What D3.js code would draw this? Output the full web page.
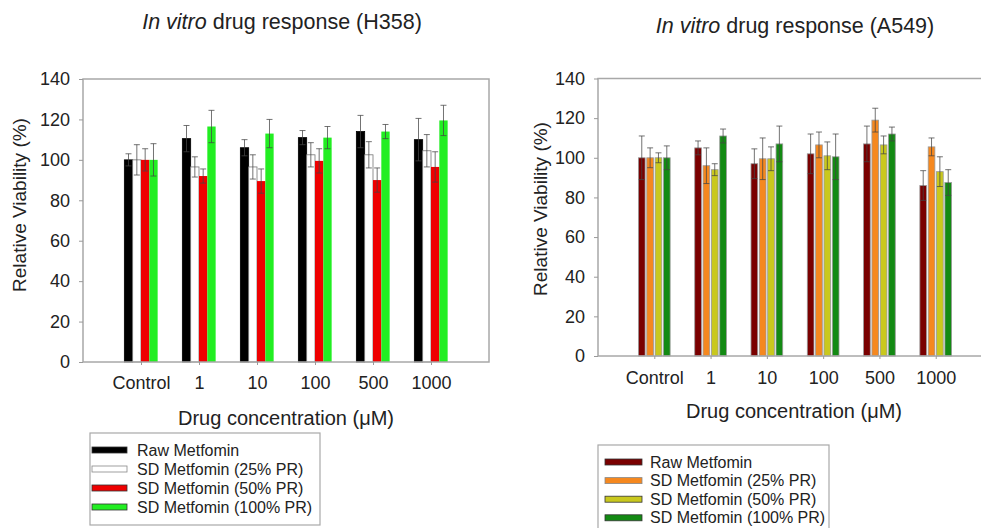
<!DOCTYPE html>
<html>
<head>
<meta charset="utf-8">
<script src="https://cdn.jsdelivr.net/npm/d3@7/dist/d3.min.js"></script>
<style>
  html, body { margin: 0; padding: 0; background: #fff; }
  svg { display: block; font-family: "Liberation Sans", Arial, sans-serif; }
</style>
</head>
<body>
<svg id="chart" width="981" height="528"></svg>
<script>
// Concentrations (µM) on the x axis
const categories = ["Control", "1", "10", "100", "500", "1000"];
const seriesNames = ["Raw Metfomin", "SD Metfomin (25% PR)", "SD Metfomin (50% PR)", "SD Metfomin (100% PR)"];
const yTicks = [0, 20, 40, 60, 80, 100, 120, 140];

// H358 relative viability (%) and SD
const h358Raw      = [100, 110.5, 106, 111, 114, 110];
const h358RawSD    = [3, 6.5, 4, 3.5, 8, 10.5];
const h358PR25     = [100, 96.5, 96.5, 102.5, 102.5, 104.5];
const h358PR25SD   = [7.5, 5, 6, 6, 6.5, 8];
const h358PR50     = [100, 92, 89.5, 99.5, 90, 96.5];
const h358PR50SD   = [5.5, 3.5, 6, 6, 6, 7.5];
const h358PR100    = [100, 116.5, 113, 111, 114, 119.5];
const h358PR100SD  = [8, 8, 7, 5.5, 3.5, 7.5];

// A549 relative viability (%) and SD
const a549Raw      = [100, 105, 97, 102, 107, 86];
const a549RawSD    = [11, 3.5, 7.5, 10, 9, 7.5];
const a549PR25     = [100, 96, 99.5, 106.5, 119, 105.5];
const a549PR25SD   = [5, 9, 10.5, 6.5, 6, 4.5];
const a549PR50     = [100, 94, 99.5, 101, 106.5, 93];
const a549PR50SD   = [2.5, 3, 6, 7, 4.5, 7.5];
const a549PR100    = [100, 111, 107, 100.5, 112, 87.5];
const a549PR100SD  = [6, 3.5, 9, 11.5, 3.5, 6.5];

const h358Colors = ["#000000", "#ffffff", "#ee0000", "#22ee22"];
const a549Colors = ["#7a0000", "#f5881f", "#c9c81e", "#138a13"];

const svg = d3.select("#chart");
const textColor = "#222";

function drawPanel(o) {
  const g = svg.append("g");
  const x = d3.scalePoint().domain(categories).range([o.x0, o.x1]).padding(1);
  const y = d3.scaleLinear().domain([0, 140]).range([o.y0, o.y1]);
  const inner = d3.scaleBand().domain(d3.range(seriesNames.length))
    .range([-o.groupW / 2, o.groupW / 2]).paddingInner(o.pad);

  // bars
  o.values.forEach((vals, si) => {
    g.append("g").selectAll("rect").data(vals).join("rect")
      .attr("x", (d, i) => x(categories[i]) + inner(si))
      .attr("y", d => y(d))
      .attr("width", inner.bandwidth())
      .attr("height", d => y(0) - y(d))
      .attr("fill", o.colors[si])
      .attr("stroke", o.barStroke[si])
      .attr("stroke-width", 0.8);
  });

  // error bars (mean ± SD)
  o.values.forEach((vals, si) => {
    const eg = g.append("g").attr("stroke", "#444").attr("stroke-width", 1).attr("stroke-opacity", 0.75);
    vals.forEach((v, i) => {
      const cx = x(categories[i]) + inner(si) + inner.bandwidth() / 2;
      const e = o.errors[si][i];
      const cap = o.cap / 2;
      eg.append("line").attr("x1", cx).attr("x2", cx).attr("y1", y(v - e)).attr("y2", y(v + e));
      eg.append("line").attr("x1", cx - cap).attr("x2", cx + cap).attr("y1", y(v + e)).attr("y2", y(v + e));
      eg.append("line").attr("x1", cx - cap).attr("x2", cx + cap).attr("y1", y(v - e)).attr("y2", y(v - e));
    });
  });

  // frame
  g.append("rect")
    .attr("x", o.x0).attr("y", o.y1)
    .attr("width", o.x1 - o.x0).attr("height", o.y0 - o.y1)
    .attr("fill", "none").attr("stroke", "#a8a8a8").attr("stroke-width", 1.5);

  // y axis
  const ya = g.append("g").attr("transform", `translate(${o.x0},0)`)
    .call(d3.axisLeft(y).tickValues(yTicks).tickSize(4).tickPadding(9));
  ya.select(".domain").remove();
  ya.selectAll("line").attr("stroke", "#999");
  ya.selectAll("text").attr("fill", textColor).style("font-size", "18px");

  // x axis
  const xa = g.append("g").attr("transform", `translate(0,${o.y0})`)
    .call(d3.axisBottom(x).tickSize(3).tickPadding(o.xPad));
  xa.select(".domain").remove();
  xa.selectAll("line").attr("stroke", "#999");
  xa.selectAll("text").attr("fill", textColor).style("font-size", "18px");

  // titles
  const title = g.append("text").attr("x", o.titleX).attr("y", o.titleY)
    .attr("text-anchor", "middle").attr("fill", textColor).style("font-size", "21.5px");
  title.append("tspan").attr("font-style", "italic").text("In vitro");
  title.append("tspan").text(" drug response (" + o.name + ")");

  g.append("text").attr("x", o.xTitleX).attr("y", o.xTitleY)
    .attr("text-anchor", "middle").attr("fill", textColor).style("font-size", "20px")
    .text("Drug concentration (\u03bcM)");

  g.append("text")
    .attr("transform", `translate(${o.yTitleX},${o.yTitleY}) rotate(-90)`)
    .attr("text-anchor", "middle").attr("dominant-baseline", "central")
    .attr("fill", textColor).style("font-size", "19px")
    .text("Relative Viability (%)");

  // legend
  const L = o.legend;
  const lg = g.append("g");
  lg.append("rect").attr("x", L.x).attr("y", L.y).attr("width", L.w).attr("height", L.h)
    .attr("fill", "#fff").attr("stroke", "#a8a8a8").attr("stroke-width", 1.2);
  seriesNames.forEach((name, si) => {
    const cy = L.row0 + si * L.step;
    lg.append("rect").attr("x", L.sx).attr("y", cy - 3).attr("width", L.sw).attr("height", 6)
      .attr("fill", o.colors[si]).attr("stroke", si === 1 ? "#888" : "#333").attr("stroke-width", 0.8);
    lg.append("text").attr("x", L.tx).attr("y", cy).attr("dominant-baseline", "central")
      .attr("fill", textColor).style("font-size", "16px").text(name);
  });
}

drawPanel({
  name: "H358",
  x0: 83, x1: 489, y0: 362, y1: 79,
  groupW: 33.3, pad: 0, cap: 6, xPad: 11,
  values: [h358Raw, h358PR25, h358PR50, h358PR100],
  errors: [h358RawSD, h358PR25SD, h358PR50SD, h358PR100SD],
  colors: h358Colors,
  barStroke: ["#000", "#777", "none", "none"],
  titleX: 282, titleY: 29,
  xTitleX: 286, xTitleY: 425,
  yTitleX: 19, yTitleY: 205,
  legend: { x: 90, y: 433, w: 230, h: 92, row0: 450, step: 19, sx: 92, sw: 35, tx: 137 }
});

drawPanel({
  name: "A549",
  x0: 598, x1: 992, y0: 356, y1: 78.5,
  groupW: 31.7, pad: 0.2, cap: 6, xPad: 12,
  values: [a549Raw, a549PR25, a549PR50, a549PR100],
  errors: [a549RawSD, a549PR25SD, a549PR50SD, a549PR100SD],
  colors: a549Colors,
  barStroke: ["#999", "#999", "#999", "#999"],
  titleX: 795, titleY: 33,
  xTitleX: 794, xTitleY: 418,
  yTitleX: 540, yTitleY: 209,
  legend: { x: 598, y: 445, w: 231, h: 86, row0: 462, step: 18.6, sx: 605, sw: 37, tx: 650 }
});
</script>
</body>
</html>
